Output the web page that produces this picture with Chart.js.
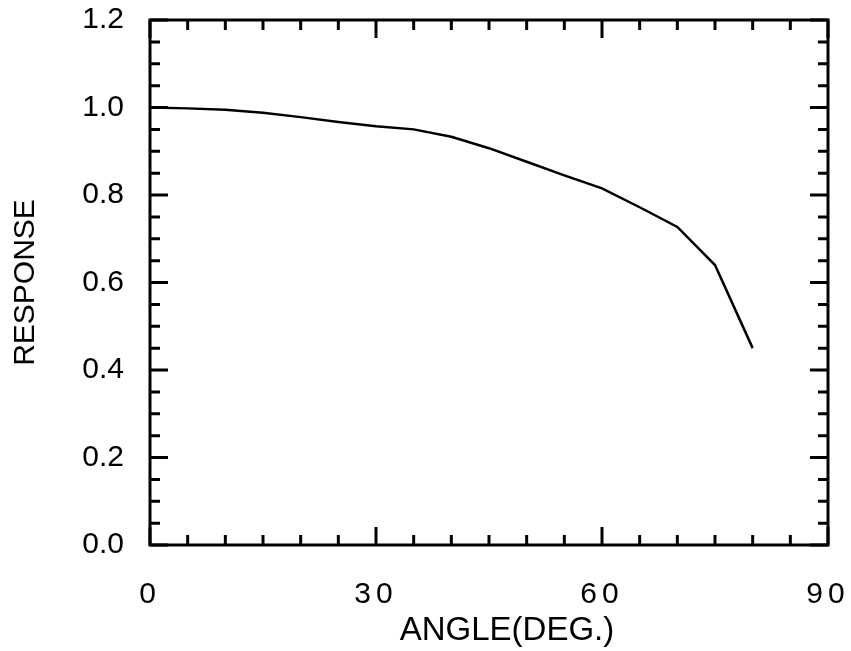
<!DOCTYPE html>
<html lang="en">
<head>
  <meta charset="UTF-8" />
  <title>Response vs Angle</title>
  <script src="https://cdn.jsdelivr.net/npm/chart.js"></script>
  <style>
    body {
      margin: 0;
      background: #fff;
    }
    canvas {
      display: block;
    }
  </style>
</head>
<body>
  <canvas id="responseChart" width="851" height="651"></canvas>

  <script>
    // data
    const angles = [0, 5, 10, 15, 20, 25, 30, 35, 40, 45, 50, 55, 60, 65, 70, 75, 80];
    const response = [1.0, 0.998, 0.995, 0.988, 0.978, 0.967, 0.957, 0.950, 0.933, 0.907, 0.876, 0.845, 0.815, 0.772, 0.727, 0.640, 0.450];

    const xTickLabels = [0, 30, 60, 90];
    const yTickLabels = [0.0, 0.2, 0.4, 0.6, 0.8, 1.0, 1.2];
    const xMinorStep = 5;
    const yMinorStep = 0.05;

    // frame + inward ticks on all four sides
    const framePlugin = {
      id: 'frame',
      beforeDraw(chart) {
        const sx = chart.scales.x;
        if (!sx._patched) {
          // x tick numbers are spaced out ("3 0")
          const origLabels = sx.drawLabels;
          sx.drawLabels = function (area) {
            const c = this.ctx;
            c.letterSpacing = '5px';
            origLabels.call(this, area);
            c.letterSpacing = '0px';
          };
          // x title sits a bit right of the plot centre
          const origTitle = sx.drawTitle;
          sx.drawTitle = function () {
            const c = this.ctx;
            c.save();
            c.translate(18, 0);
            origTitle.call(this);
            c.restore();
          };
          sx._patched = true;
        }
      },
      afterDraw(chart) {
        const { ctx, chartArea: a, scales } = chart;
        ctx.save();
        ctx.strokeStyle = '#000';
        ctx.lineWidth = 3;
        ctx.strokeRect(a.left, a.top, a.right - a.left, a.bottom - a.top);

        ctx.beginPath();
        for (let v = 0; v <= 90 + 1e-6; v += xMinorStep) {
          const px = scales.x.getPixelForValue(v);
          const len = xTickLabels.includes(v) ? 18 : 10;
          ctx.moveTo(px, a.bottom);
          ctx.lineTo(px, a.bottom - len);
          ctx.moveTo(px, a.top);
          ctx.lineTo(px, a.top + len);
        }
        for (let i = 0; i <= 24; i++) {
          const py = scales.y.getPixelForValue(i * yMinorStep);
          const len = i % 4 === 0 ? 18 : 10;
          ctx.moveTo(a.left, py);
          ctx.lineTo(a.left + len, py);
          ctx.moveTo(a.right, py);
          ctx.lineTo(a.right - len, py);
        }
        ctx.stroke();
        ctx.restore();
      }
    };

    const ctx = document.getElementById('responseChart').getContext('2d');

    new Chart(ctx, {
      type: 'line',
      data: {
        datasets: [{
          data: angles.map((a, i) => ({ x: a, y: response[i] })),
          borderColor: '#000',
          borderWidth: 2.5,
          pointRadius: 0,
          tension: 0,
          fill: false
        }]
      },
      options: {
        responsive: false,
        animation: false,
        layout: {
          padding: { top: 20, right: 23, bottom: 0, left: 0 }
        },
        plugins: {
          legend: { display: false },
          tooltip: { enabled: false }
        },
        scales: {
          x: {
            type: 'linear',
            min: 0,
            max: 90,
            afterBuildTicks: s => { s.ticks = xTickLabels.map(v => ({ value: v })); },
            afterFit: s => {
              s.height = 106;
              s.paddingLeft = 0;
              s.paddingRight = 0;
            },
            grid: { display: false, drawTicks: false },
            border: { display: false },
            ticks: {
              color: '#000',
              padding: 32,
              maxRotation: 0,
              font: { family: 'Liberation Sans', size: 30 }
            },
            title: {
              display: true,
              text: 'ANGLE(DEG.)',
              color: '#000',
              font: { family: 'Liberation Sans', size: 33 },
              padding: { top: 0, bottom: 0 }
            }
          },
          y: {
            type: 'linear',
            min: 0,
            max: 1.2,
            afterBuildTicks: s => { s.ticks = yTickLabels.map(v => ({ value: v })); },
            afterFit: s => {
              s.width = 150;
              s.paddingTop = 0;
              s.paddingBottom = 0;
            },
            grid: { display: false, drawTicks: false },
            border: { display: false },
            ticks: {
              color: '#000',
              padding: 26,
              font: { family: 'Liberation Sans', size: 30 },
              callback: v => v.toFixed(1)
            },
            title: {
              display: true,
              text: 'RESPONSE',
              color: '#000',
              font: { family: 'Liberation Sans', size: 30 },
              padding: { top: 8, bottom: 0 }
            }
          }
        }
      },
      plugins: [framePlugin]
    });
  </script>
</body>
</html>
